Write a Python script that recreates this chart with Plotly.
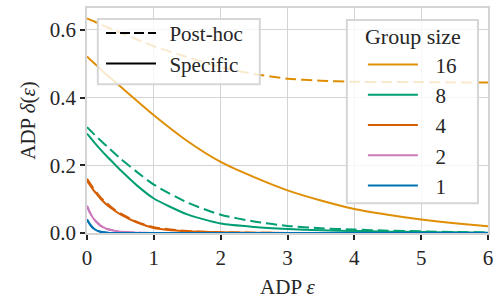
import plotly.graph_objects as go

# ---- data ----
eps = [0, 0.05, 0.1, 0.15, 0.2, 0.3, 0.4, 0.5, 0.75, 1, 1.5, 2, 2.5, 3, 3.5, 4, 4.5, 5, 5.5, 6]

group_sizes = ["16", "8", "4", "2", "1"]
colors = ["#de8f05", "#029e73", "#d55e00", "#cc78bc", "#0173b2"]

specific_16 = [0.522, 0.512, 0.503, 0.494, 0.485, 0.467, 0.450, 0.433, 0.390, 0.348, 0.272, 0.210, 0.165, 0.126, 0.096, 0.071, 0.054, 0.040, 0.029, 0.020]
posthoc_16 = [0.634, 0.630, 0.626, 0.621, 0.617, 0.608, 0.600, 0.592, 0.572, 0.552, 0.520, 0.490, 0.470, 0.456, 0.450, 0.447, 0.446, 0.446, 0.445, 0.445]
specific_8 = [0.294, 0.282, 0.270, 0.258, 0.247, 0.226, 0.206, 0.186, 0.140, 0.102, 0.055, 0.028, 0.018, 0.012, 0.008, 0.006, 0.004, 0.003, 0.002, 0.001]
posthoc_8 = [0.313, 0.303, 0.293, 0.283, 0.274, 0.256, 0.238, 0.220, 0.180, 0.143, 0.090, 0.054, 0.034, 0.021, 0.014, 0.010, 0.007, 0.005, 0.003, 0.002]
specific_4 = [0.155, 0.140, 0.126, 0.114, 0.102, 0.083, 0.068, 0.055, 0.031, 0.015, 0.005, 0.002, 0.001, 0, 0, 0, 0, 0, 0, 0]
posthoc_4 = [0.160, 0.145, 0.131, 0.118, 0.106, 0.087, 0.071, 0.058, 0.033, 0.017, 0.006, 0.002, 0.001, 0, 0, 0, 0, 0, 0, 0]
specific_2 = [0.080, 0.058, 0.042, 0.031, 0.022, 0.012, 0.007, 0.004, 0.001, 0, 0, 0, 0, 0, 0, 0, 0, 0, 0, 0]
posthoc_2 = specific_2
specific_1 = [0.040, 0.024, 0.013, 0.007, 0.004, 0.001, 0, 0, 0, 0, 0, 0, 0, 0, 0, 0, 0, 0, 0, 0]
posthoc_1 = specific_1

specific = [specific_16, specific_8, specific_4, specific_2, specific_1]
posthoc = [posthoc_16, posthoc_8, posthoc_4, posthoc_2, posthoc_1]

x_ticks = [0, 1, 2, 3, 4, 5, 6]
y_ticks = [0.0, 0.2, 0.4, 0.6]

FONT = "Liberation Serif"
TXT = "#262626"
GRID = "#d4d4d4"
DASH = "11px,5px"
PAD = "\u2009\u2009"        # small gap between legend sample and label
PAD2 = "\u2009\u2009\u2009"

fig = go.Figure()

for gs, col, sp, ph in zip(group_sizes, colors, specific, posthoc):
    fig.add_trace(go.Scatter(x=eps, y=sp, mode="lines", line=dict(color=col, width=2, shape="spline", smoothing=0.6),
                             name=PAD2 + gs, legend="legend2", legendgroup=gs, showlegend=True))
    fig.add_trace(go.Scatter(x=eps, y=ph, mode="lines", line=dict(color=col, width=2, dash=DASH, shape="spline", smoothing=0.6),
                             name=gs + " post-hoc", showlegend=False))

# style legend entries
fig.add_trace(go.Scatter(x=[None], y=[None], mode="lines", line=dict(color="black", width=2, dash="10px,4px"),
                         name=PAD + "Post-hoc", legend="legend", legendgroup="ph"))
fig.add_trace(go.Scatter(x=[None], y=[None], mode="lines", line=dict(color="black", width=2),
                         name=PAD + "Specific", legend="legend", legendgroup="sp"))

# legend frames (semi-transparent boxes)
box = dict(type="rect", xref="paper", yref="paper", layer="above",
           fillcolor="rgba(255,255,255,0.8)", line=dict(color="#d6d6d6", width=2))
fig.add_shape(x0=0.027, x1=0.431, y0=0.661, y1=0.951, **box)
fig.add_shape(x0=0.648, x1=0.975, y0=0.132, y1=0.947, **box)

fig.update_layout(
    width=497, height=299,
    margin=dict(l=87, r=4, t=8, b=64),
    paper_bgcolor="white", plot_bgcolor="white",
    font=dict(family=FONT, size=21, color=TXT),
    legend=dict(x=0.035, y=0.978, xanchor="left", yanchor="top", bgcolor="rgba(0,0,0,0)",
                borderwidth=0, font=dict(family=FONT, size=21), itemwidth=50, tracegroupgap=0),
    legend2=dict(x=0.688, y=0.966, xanchor="left", yanchor="top", bgcolor="rgba(0,0,0,0)",
                 borderwidth=0, font=dict(family=FONT, size=21), itemwidth=50, tracegroupgap=0,
                 title=dict(text="Group size", side="top center", font=dict(family=FONT, size=22))),
    xaxis=dict(range=[0, 6], tickvals=x_ticks, ticktext=[str(v) for v in x_ticks],
               showgrid=True, gridcolor=GRID, gridwidth=1.3,
               showline=True, linecolor=GRID, linewidth=1.8, mirror=True,
               ticks="outside", ticklen=5, tickwidth=1.5, tickcolor=TXT, zeroline=False,
               tickfont=dict(family=FONT, size=21),
               title=dict(text="ADP <i>ε</i>", standoff=10, font=dict(family=FONT, size=21))),
    yaxis=dict(range=[0, 0.665], tickvals=y_ticks, ticktext=["%.1f" % v for v in y_ticks],
               showgrid=True, gridcolor=GRID, gridwidth=1.3,
               showline=True, linecolor=GRID, linewidth=1.8, mirror=True,
               ticks="outside", ticklen=5, tickwidth=1.5, tickcolor=TXT, zeroline=False,
               tickfont=dict(family=FONT, size=21),
               title=dict(text="ADP <i>δ</i>(<i>ε</i>)", standoff=8, font=dict(family=FONT, size=21))),
)

fig.write_html("out.html", config={"displayModeBar": False},
               post_script="document.body.style.margin='0px';document.body.style.padding='0px';")
